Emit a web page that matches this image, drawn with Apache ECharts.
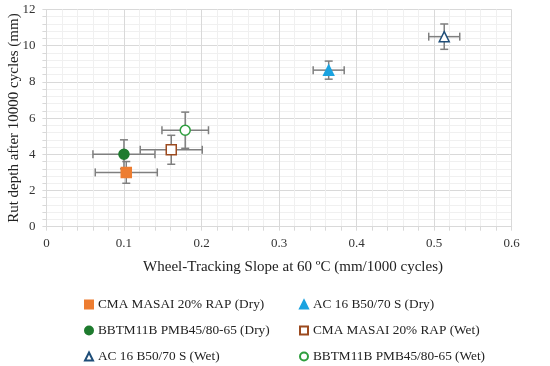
<!DOCTYPE html>
<html><head><meta charset="utf-8">
<script src="https://cdn.jsdelivr.net/npm/echarts@6/dist/echarts.min.js"></script>
<style>html,body{margin:0;padding:0;background:#fff}#c{width:550px;height:366px}</style>
</head><body><div id="c"></div>
<script>
const seriesNames = ["CMA MASAI 20% RAP (Dry)","AC 16 B50/70 S (Dry)","BBTM11B PMB45/80-65 (Dry)","CMA MASAI 20% RAP (Wet)","AC 16 B50/70 S (Wet)","BBTM11B PMB45/80-65 (Wet)"];
const slopeX = [0.103, 0.364, 0.100, 0.161, 0.513, 0.179];
const rutY   = [3.0, 8.65, 4.0, 4.25, 10.5, 5.33];
const slopeErr = [0.04, 0.02, 0.04, 0.04, 0.02, 0.03];
const rutErr   = [0.6, 0.5, 0.8, 0.8, 0.7, 1.0];
const xTicks = [0, 0.1, 0.2, 0.3, 0.4, 0.5, 0.6];
const yTicks = [0, 2, 4, 6, 8, 10, 12];

const symbols = ['rect','triangle','circle','rect','triangle','circle'];
const fills   = ['#ED7D31','#1BA3E0','#1E7B2E','#ffffff','#ffffff','#ffffff'];
const borders = ['#ED7D31','#1BA3E0','#1E7B2E','#9C4A1F','#1F4E79','#2E9E3E'];
const sizes   = [10, 10, 10, 10, 10, 10];
const FONT = 'Liberation Serif';

const chart = echarts.init(document.getElementById('c'));
const errData = slopeX.map((x,i)=>[x, rutY[i], slopeErr[i], rutErr[i]]);
const cap = 4;
const series = [{
  type:'custom', z:1, silent:true,
  renderItem:(params, api)=>{
    const x=api.value(0), y=api.value(1), ex=api.value(2), ey=api.value(3);
    const l=api.coord([x-ex,y]), r=api.coord([x+ex,y]);
    const t=api.coord([x,y+ey]), b=api.coord([x,y-ey]);
    const st={stroke:'#7f7f7f', lineWidth:1.5};
    return {type:'group', children:[
      {type:'line', shape:{x1:l[0],y1:l[1],x2:r[0],y2:r[1]}, style:st},
      {type:'line', shape:{x1:l[0],y1:l[1]-cap,x2:l[0],y2:l[1]+cap}, style:st},
      {type:'line', shape:{x1:r[0],y1:r[1]-cap,x2:r[0],y2:r[1]+cap}, style:st},
      {type:'line', shape:{x1:t[0],y1:t[1],x2:b[0],y2:b[1]}, style:st},
      {type:'line', shape:{x1:t[0]-cap,y1:t[1],x2:t[0]+cap,y2:t[1]}, style:st},
      {type:'line', shape:{x1:b[0]-cap,y1:b[1],x2:b[0]+cap,y2:b[1]}, style:st}
    ]};
  },
  data: errData
}];
seriesNames.forEach((n,i)=>{
  series.push({
    type:'scatter', name:n, z:3, symbol:symbols[i], symbolSize:sizes[i],
    itemStyle:{color:fills[i], borderColor:borders[i], borderWidth:1.5, opacity:1},
    data:[[slopeX[i], rutY[i]]]
  });
});

const legendCommon = {orient:'vertical', itemWidth:8, itemHeight:8, itemGap:13, padding:0,
  textStyle:{fontFamily:FONT, fontSize:13.3, color:'#222'}};
chart.setOption({
  animation:false,
  textStyle:{fontFamily:FONT},
  grid:{left:46.4, right:38.3, top:9.5, bottom:139.3, outerBoundsMode:'none', containLabel:false},
  xAxis:{type:'value', min:0, max:0.6, interval:0.1,
    name:'Wheel-Tracking Slope at 60 ºC (mm/1000 cycles)', nameLocation:'middle', nameGap:33, nameMoveOverlap:false,
    nameTextStyle:{fontFamily:FONT, fontSize:15, color:'#222', padding:[0,0,0,28]},
    axisLine:{show:true, lineStyle:{color:'#d9d9d9'}},
    axisTick:{show:true, length:4, lineStyle:{color:'#d9d9d9'}},
    minorTick:{show:true, splitNumber:5, length:4, lineStyle:{color:'#d9d9d9'}},
    axisLabel:{fontFamily:FONT, fontSize:13, color:'#333', margin:10, formatter:v=>String(+v.toFixed(1))},
    splitLine:{lineStyle:{color:'#d9d9d9'}},
    minorSplitLine:{show:true, lineStyle:{color:'#f0f0f0'}}
  },
  yAxis:{type:'value', min:0, max:12, interval:2,
    name:'Rut depth after 10000 cycles (mm)', nameLocation:'middle', nameGap:25, nameMoveOverlap:false,
    nameTextStyle:{fontFamily:FONT, fontSize:15, color:'#222'},
    axisLine:{show:true, lineStyle:{color:'#d9d9d9'}},
    axisTick:{show:true, length:4, lineStyle:{color:'#d9d9d9'}},
    minorTick:{show:true, splitNumber:5, length:4, lineStyle:{color:'#d9d9d9'}},
    axisLabel:{fontFamily:FONT, fontSize:13, color:'#333', margin:11},
    splitLine:{lineStyle:{color:'#d9d9d9'}},
    minorSplitLine:{show:true, lineStyle:{color:'#f0f0f0'}}
  },
  legend:[
    Object.assign({}, legendCommon, {left:84, top:298, data:[seriesNames[0], seriesNames[2], seriesNames[4]]}),
    Object.assign({}, legendCommon, {left:299, top:298, data:[seriesNames[1], seriesNames[3], seriesNames[5]]})
  ],
  series: series
});
</script></body></html>
